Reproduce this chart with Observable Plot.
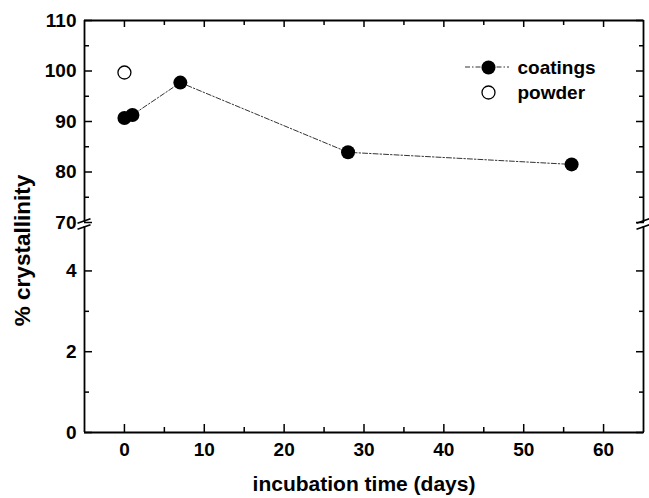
<!DOCTYPE html>
<html><head><meta charset="utf-8">
<script src="https://cdn.jsdelivr.net/npm/d3@7"></script>
<script src="https://cdn.jsdelivr.net/npm/@observablehq/plot@0.6"></script>
<style>body{margin:0;background:#fff;} #chart svg{font-family:"Liberation Sans",Arial,sans-serif;font-weight:bold;}</style>
</head><body><div id="chart"></div>
<script>
// ---- data ----
const coatingsDays = [0, 1, 7, 28, 56];
const coatingsCryst = [90.7, 91.3, 97.7, 83.9, 81.5];
const powderDays = [0];
const powderCryst = [99.7];
const xMajorTicks = [0, 10, 20, 30, 40, 50, 60];
const xMinorTicks = [5, 15, 25, 35, 45, 55];
const yMajorTicks = [0, 2, 4, 70, 80, 90, 100, 110];
const yMinorTicks = [1, 3, 75, 85, 95, 105];
const xDomain = [-5, 65];
const yLower = [0, 5.1];
const yUpper = [70, 110];
const legendLabels = ["coatings", "powder"];
const xLabel = "incubation time (days)";
const yLabel = "% crystallinity";

const coatings = coatingsDays.map((d, i) => ({day: d, value: coatingsCryst[i]}));
const powder = powderDays.map((d, i) => ({day: d, value: powderCryst[i]}));

const dash = "5,2,1.5,2";
const axisW = 1.8;

function breakMarks(index, scales) {
  const g = d3.create("svg:g").attr("stroke", "black").attr("stroke-width", 1.6);
  for (const xv of xDomain) {
    const px = scales.x(xv);
    const yTop = scales.y(yUpper[0]) - 1;
    const yBot = scales.y(yLower[1]) + 1;
    for (const py of [yTop, yBot]) {
      g.append("line").attr("x1", px - 6.5).attr("y1", py + 2.2).attr("x2", px + 6.5).attr("y2", py - 2.2);
    }
  }
  return g.node();
}

function legendLine(index, scales, values, dims) {
  const right = dims.width - dims.marginRight;
  const y = dims.marginTop + 47;
  const g = d3.create("svg:g");
  g.append("line").attr("x1", right - 178).attr("x2", right - 134).attr("y1", y).attr("y2", y)
    .attr("stroke", "#333").attr("stroke-width", 1).attr("stroke-dasharray", dash);
  return g.node();
}

const chart = Plot.plot({
  width: 649,
  height: 498,
  marginLeft: 84,
  marginRight: 6,
  marginTop: 20,
  marginBottom: 66,
  style: {fontFamily: "Liberation Sans, Arial, sans-serif", fontSize: "19px", fontWeight: "bold", background: "white", color: "black"},
  x: {domain: xDomain, axis: null},
  y: {type: "linear", domain: [yLower[0], yLower[1], yUpper[0], yUpper[1]], range: [432, 226, 222, 20], axis: null},
  marks: [
    // frame
    Plot.ruleY([yUpper[1]], {stroke: "black", strokeWidth: axisW}),
    Plot.ruleY([yLower[0]], {stroke: "black", strokeWidth: axisW}),
    Plot.ruleX(xDomain, {y1: yUpper[0], y2: yUpper[1], stroke: "black", strokeWidth: axisW}),
    Plot.ruleX(xDomain, {y1: yLower[0], y2: yLower[1], stroke: "black", strokeWidth: axisW}),
    breakMarks,
    // ticks (inward)
    Plot.axisY(yMajorTicks, {anchor: "left", tickSize: 8, dx: 8, tickFormat: () => "", label: null, strokeWidth: 1.5}),
    Plot.axisY(yMinorTicks, {anchor: "left", tickSize: 5, dx: 5, tickFormat: () => "", label: null, strokeWidth: 1.5}),
    Plot.axisY(yMajorTicks, {anchor: "right", tickSize: 8, dx: -8, tickFormat: () => "", label: null, strokeWidth: 1.5}),
    Plot.axisY(yMinorTicks, {anchor: "right", tickSize: 5, dx: -5, tickFormat: () => "", label: null, strokeWidth: 1.5}),
    Plot.axisX(xMajorTicks, {anchor: "bottom", tickSize: 8, dy: -8, tickFormat: () => "", label: null, strokeWidth: 1.5}),
    Plot.axisX(xMinorTicks, {anchor: "bottom", tickSize: 5, dy: -5, tickFormat: () => "", label: null, strokeWidth: 1.5}),
    Plot.axisX(xMajorTicks, {anchor: "top", tickSize: 6, dy: 6, tickFormat: () => "", label: null, strokeWidth: 1.5}),
    Plot.axisX(xMinorTicks, {anchor: "top", tickSize: 4, dy: 4, tickFormat: () => "", label: null, strokeWidth: 1.5}),
    // tick labels
    Plot.axisY(yMajorTicks, {anchor: "left", tickSize: 0, tickPadding: 8, label: null, fontSize: 19, fontWeight: "bold"}),
    Plot.axisX(xMajorTicks, {anchor: "bottom", tickSize: 0, tickPadding: 10, label: null, fontSize: 19, fontWeight: "bold"}),
    // axis titles
    Plot.text([xLabel], {frameAnchor: "bottom", dy: 52, lineAnchor: "middle", textAnchor: "middle", fontSize: 21, fontWeight: "bold"}),
    Plot.text([yLabel], {frameAnchor: "left", dx: -62, dy: 24, rotate: -90, lineAnchor: "middle", textAnchor: "middle", fontSize: 22.5, fontWeight: "bold"}),
    // data
    Plot.line(coatings, {x: "day", y: "value", stroke: "#333", strokeWidth: 1, strokeDasharray: dash}),
    Plot.dot(coatings, {x: "day", y: "value", r: 7, fill: "black"}),
    Plot.dot(powder, {x: "day", y: "value", r: 6.5, fill: "white", stroke: "black", strokeWidth: 1.3}),
    // legend
    legendLine,
    Plot.dot([legendLabels[0]], {frameAnchor: "top-right", dx: -155, dy: 47, r: 7, fill: "black"}),
    Plot.text([legendLabels[0]], {frameAnchor: "top-right", dx: -126, dy: 47, textAnchor: "start", lineAnchor: "middle", fontSize: 19, fontWeight: "bold"}),
    Plot.dot([legendLabels[1]], {frameAnchor: "top-right", dx: -155, dy: 72, r: 6.5, fill: "white", stroke: "black", strokeWidth: 1.3}),
    Plot.text([legendLabels[1]], {frameAnchor: "top-right", dx: -126, dy: 72, textAnchor: "start", lineAnchor: "middle", fontSize: 19, fontWeight: "bold"})
  ]
});
document.getElementById("chart").appendChild(chart);
</script>
</body></html>
